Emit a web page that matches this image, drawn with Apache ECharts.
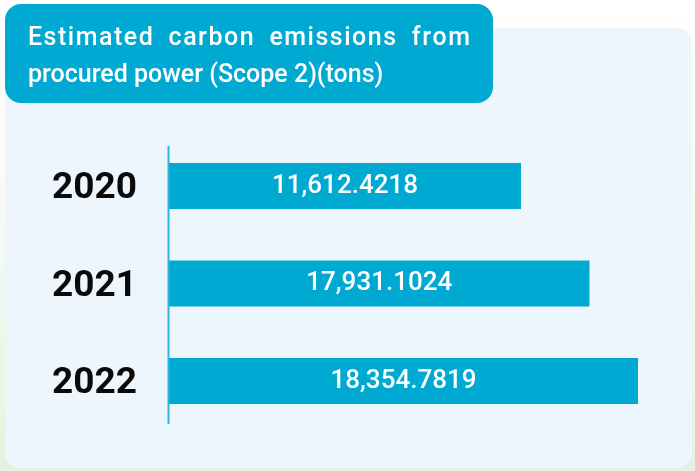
<!DOCTYPE html>
<html>
<head>
<meta charset="utf-8">
<script src="https://cdn.jsdelivr.net/npm/echarts@6/dist/echarts.min.js"></script>
<style>
html,body{margin:0;padding:0;width:695px;height:471px;overflow:hidden;background:#fff;}
#chart{width:695px;height:471px;}
</style>
</head>
<body>
<div id="chart"></div>
<script>
// Data
var years = ['2020', '2021', '2022'];
var emissionValues = [11612.4218, 17931.1024, 18354.7819];   // shown labels (tons)
var barLengths = [75.05, 89.66, 100];                           // relative bar lengths as drawn
var titleLine1 = ['Estimated', 'carbon', 'emissions', 'from'];
var titleLine2 = 'procured power (Scope 2)(tons)';

var chart = echarts.init(document.getElementById('chart'), null, {renderer: 'canvas'});

function fmt(v) {
  return v.toLocaleString('en-US', {minimumFractionDigits: 4, maximumFractionDigits: 4});
}

// Justified first title line with slight letter spacing
var titleFont = '500 25px Roboto';
var ctx = document.createElement('canvas').getContext('2d');
ctx.font = titleFont;
var lineLeft = 28, lineRight = 470, letterSpacing = 1.5;
var wordW = titleLine1.map(function (w) {
  var t = 0;
  for (var k = 0; k < w.length; k++) t += ctx.measureText(w[k]).width + (k < w.length - 1 ? letterSpacing : 0);
  return t;
});
var sumW = wordW.reduce(function (a, b) { return a + b; }, 0);
var gap = (lineRight - lineLeft - sumW) / (titleLine1.length - 1);
var titleGraphics = [];
var cx = lineLeft;
titleLine1.forEach(function (w, i) {
  var x = cx;
  for (var k = 0; k < w.length; k++) {
    titleGraphics.push({
      type: 'text', z: 20, x: x, y: 26,
      style: {text: w[k], fill: '#ffffff', font: titleFont, verticalAlign: 'top'}
    });
    x += ctx.measureText(w[k]).width + letterSpacing;
  }
  cx += wordW[i] + gap;
});
titleGraphics.push({
  type: 'text', z: 20, x: 28, y: 63,
  style: {text: titleLine2, fill: '#ffffff', font: titleFont, verticalAlign: 'top'}
});

var option = {
  animation: false,
  backgroundColor: {
    type: 'linear', x: 0, y: 0, x2: 0, y2: 1,
    colorStops: [{offset: 0, color: '#ffffff'}, {offset: 0.3, color: '#fbfdf9'}, {offset: 1, color: '#e4f3df'}]
  },
  grid: {left: 169, right: 57, top: 137.25, bottom: 41.25, containLabel: false},
  xAxis: {type: 'value', min: 0, max: 100, show: false},
  yAxis: {
    type: 'category', data: years, inverse: true,
    axisLine: {show: false}, axisTick: {show: false}, splitLine: {show: false},
    axisLabel: {
      margin: 32,
      formatter: function (v) { return '{s| }\n{y|' + v + '}'; },
      rich: {
        s: {fontSize: 1, lineHeight: 6},
        y: {fontSize: 37, fontWeight: 'bold', color: '#0a0a0a', fontFamily: 'Roboto', lineHeight: 40}
      }
    }
  },
  graphic: [
    {type: 'rect', z: -10, shape: {x: 5, y: 28, width: 687, height: 440, r: 15}, style: {fill: '#eef6fd'}},
    {type: 'rect', z: 10, shape: {x: 5, y: 4, width: 488, height: 99, r: 16}, style: {fill: '#00a9d2'}},
    {type: 'line', z: 5, shape: {x1: 168.5, y1: 146, x2: 168.5, y2: 424}, style: {stroke: '#2bb6df', lineWidth: 2}}
  ].concat(titleGraphics),
  series: [{
    type: 'bar',
    data: barLengths,
    barWidth: 46,
    z: 3,
    itemStyle: {color: '#00a9d2'},
    label: {
      show: true, position: 'inside', color: '#ffffff', fontSize: 26, fontWeight: 500, fontFamily: 'Roboto',
      formatter: function (p) { return fmt(emissionValues[p.dataIndex]); }
    }
  }]
};
chart.setOption(option);
</script>
</body>
</html>
